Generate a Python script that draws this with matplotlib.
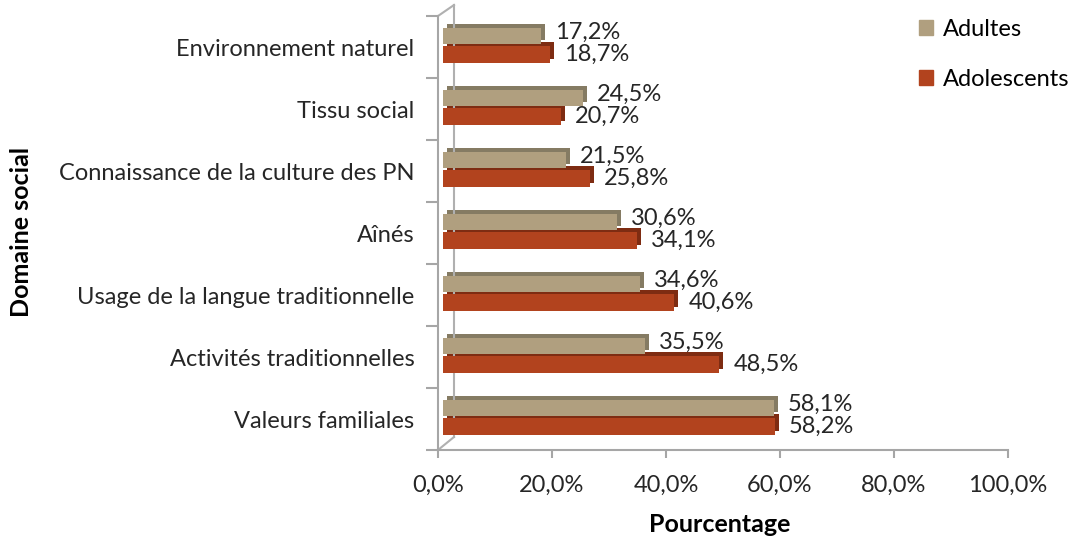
import matplotlib.pyplot as plt
import matplotlib.transforms as mtransforms
from matplotlib.patches import Patch
import numpy as np

plt.rcParams['font.family'] = ['Lato', 'DejaVu Sans']

categories = ['Environnement naturel', 'Tissu social', 'Connaissance de la culture des PN',
              'Aînés', 'Usage de la langue traditionnelle', 'Activités traditionnelles',
              'Valeurs familiales']
adultes = [17.2, 24.5, 21.5, 30.6, 34.6, 35.5, 58.1]
adolescents = [18.7, 20.7, 25.8, 34.1, 40.6, 48.5, 58.2]
xticks = [0, 20, 40, 60, 80, 100]

c_adu, c_adu_dark = '#B09F7F', '#857B63'
c_ado, c_ado_dark = '#B2431E', '#7E2C12'

fig = plt.figure(figsize=(10.71, 5.40), dpi=100)
ax = fig.add_axes([438/1071, 1 - 450/540, 570/1071, 434/540])

y = np.arange(len(categories))
h = 0.26
fs = 17

# bars sit a little behind the front axis plane, depth shown by a darker copy
front = ax.transData + mtransforms.ScaledTranslation(5/100, 0, fig.dpi_scale_trans)
back = ax.transData + mtransforms.ScaledTranslation(9/100, 4/100, fig.dpi_scale_trans)

for vals, off, col, dark, dy in [(adolescents, 0.12, c_ado, c_ado_dark, 0),
                                 (adultes, -0.18, c_adu, c_adu_dark, 3)]:
    ax.barh(y + off, vals, height=h, color=dark, transform=back, zorder=2)
    ax.barh(y + off, vals, height=h, color=col, transform=front, zorder=3)
    for yi, v in zip(y, vals):
        ax.annotate('{:.1f}%'.format(v).replace('.', ','), (v, yi + off),
                    xytext=(19, dy), textcoords='offset pixels',
                    va='center', ha='left', fontsize=fs, color='#262626', zorder=5)

ax.set_xlim(0, 100)
ax.set_ylim(len(categories) - 0.5, -0.5)
ax.set_xticks(xticks)
ax.set_xticklabels(['{:.1f}%'.format(t).replace('.', ',') for t in xticks])
ax.set_yticks(y)
ax.set_yticklabels(categories)
ax.set_yticks(np.arange(len(categories) + 1) - 0.5, minor=True)
ax.tick_params(axis='y', which='major', length=0, pad=17, labelsize=fs, labelcolor='#262626')
ax.tick_params(axis='y', which='minor', length=9, width=1.5, color='#a6a6a6')
ax.tick_params(axis='x', length=6, width=1.5, color='#a6a6a6', pad=12,
               labelsize=fs, labelcolor='#262626')
for s in ['top', 'right']:
    ax.spines[s].set_visible(False)
for s in ['left', 'bottom']:
    ax.spines[s].set_color('#a6a6a6')
    ax.spines[s].set_linewidth(1.5)

# back wall of the 3D frame
wall = ax.transAxes + mtransforms.ScaledTranslation(16/100, 13/100, fig.dpi_scale_trans)
ax.plot([0, 0], [0, 1 - 2/434], color='#b0b0b0', lw=1.5, transform=wall, clip_on=False)
ax.plot([0, 16/570], [0, 13/434], color='#b0b0b0', lw=1.5, transform=ax.transAxes, clip_on=False)
ax.plot([0, 16/570], [1, 1 + 11/434], color='#b0b0b0', lw=1.5, transform=ax.transAxes, clip_on=False)

fig.text(22/1071, 1 - 232/540, 'Domaine social', rotation=90, ha='center', va='center',
         fontsize=18, fontweight='bold')
fig.text(720/1071, 1 - 524/540, 'Pourcentage', ha='center', va='center',
         fontsize=18, fontweight='bold')

handles = [Patch(color=c_adu), Patch(color=c_ado)]
fig.legend(handles, ['Adultes', 'Adolescents'], loc='upper left',
           bbox_to_anchor=(898/1071, 1 + 2/540), frameon=False, fontsize=fs,
           handlelength=0.6, handleheight=0.6, handletextpad=0.4, labelspacing=1.2)

fig.savefig('out.png', dpi=100)
